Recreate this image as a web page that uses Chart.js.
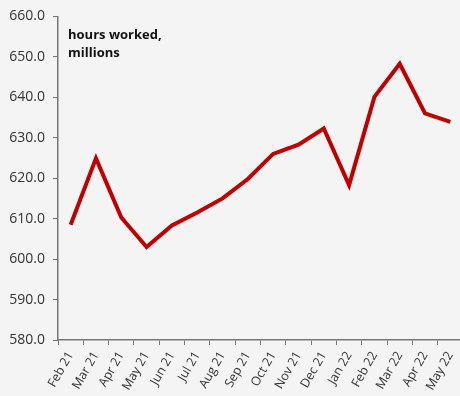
<!DOCTYPE html>
<html>
<head>
<meta charset="utf-8">
<script src="https://cdn.jsdelivr.net/npm/chart.js@4"></script>
<style>
  html, body { margin: 0; padding: 0; background: #f3f4f3; overflow: hidden; }
  #wrap { width: 463px; height: 396px; }
</style>
</head>
<body>
<div id="wrap"><canvas id="chart-hours"></canvas></div>
<script>
const months = [
  "Feb 21", "Mar 21", "Apr 21", "May 21", "Jun 21", "Jul 21", "Aug 21", "Sep 21",
  "Oct 21", "Nov 21", "Dec 21", "Jan 22", "Feb 22", "Mar 22", "Apr 22", "May 22",
];
const hoursWorked = [
  608.5, 624.9, 610.3, 603.0, 608.3, 611.5, 615.0, 619.8,
  626.0, 628.3, 632.3, 618.3, 640.1, 648.3, 636.0, 633.9,
];
const yTicks = [580, 590, 600, 610, 620, 630, 640, 650, 660];
const noteLines = ["hours worked,", "millions"];

document.addEventListener("DOMContentLoaded", main);

function main() {
  const notePlugin = {
    id: "note",
    afterDraw(chart) {
      const ctx = chart.ctx;
      ctx.save();
      ctx.font = "bold 13px 'Open Sans', sans-serif";
      ctx.fillStyle = "#111";
      ctx.textBaseline = "middle";
      noteLines.forEach((t, i) => {
        ctx.fillText(t, chart.chartArea.left + 10, 35 + i * 18);
      });
      ctx.restore();
    },
  };

  const ctx = document.getElementById("chart-hours").getContext("2d");
  new Chart(ctx, {
    type: "line",
    data: {
      labels: months,
      datasets: [
        {
          data: hoursWorked,
          borderColor: "#c00000",
          borderWidth: 4,
          pointRadius: 0,
          tension: 0,
          fill: false,
        },
      ],
    },
    options: {
      responsive: true,
      maintainAspectRatio: false,
      animation: false,
      layout: { padding: { top: 8, right: 0 } },
      plugins: { legend: { display: false }, tooltip: { enabled: false } },
      scales: {
        x: {
          offset: true,
          grid: { display: true, offset: true, drawOnChartArea: false, color: "#777", tickLength: 5 },
          border: { color: "#777", width: 1.5 },
          ticks: {
            color: "#333",
            font: { family: "'Open Sans', sans-serif", size: 12.5 },
            minRotation: 60,
            maxRotation: 60,
            autoSkip: false,
            padding: 4,
          },
          afterFit(scale) {
            scale.height = 56;
            scale.paddingLeft = 0;
            scale.paddingRight = 0;
          },
        },
        y: {
          min: 580,
          max: 660,
          afterBuildTicks(scale) { scale.ticks = yTicks.map(v => ({ value: v })); },
          grid: { display: true, drawOnChartArea: false, color: "#777", tickLength: 5 },
          border: { color: "#777", width: 1.5 },
          ticks: {
            color: "#333",
            font: { family: "'Open Sans', sans-serif", size: 14 },
            padding: 8,
            callback: (v) => v.toFixed(1),
          },
          afterFit(scale) { scale.width = 58; },
        },
      },
    },
    plugins: [notePlugin],
  });
}
</script>
</body>
</html>
